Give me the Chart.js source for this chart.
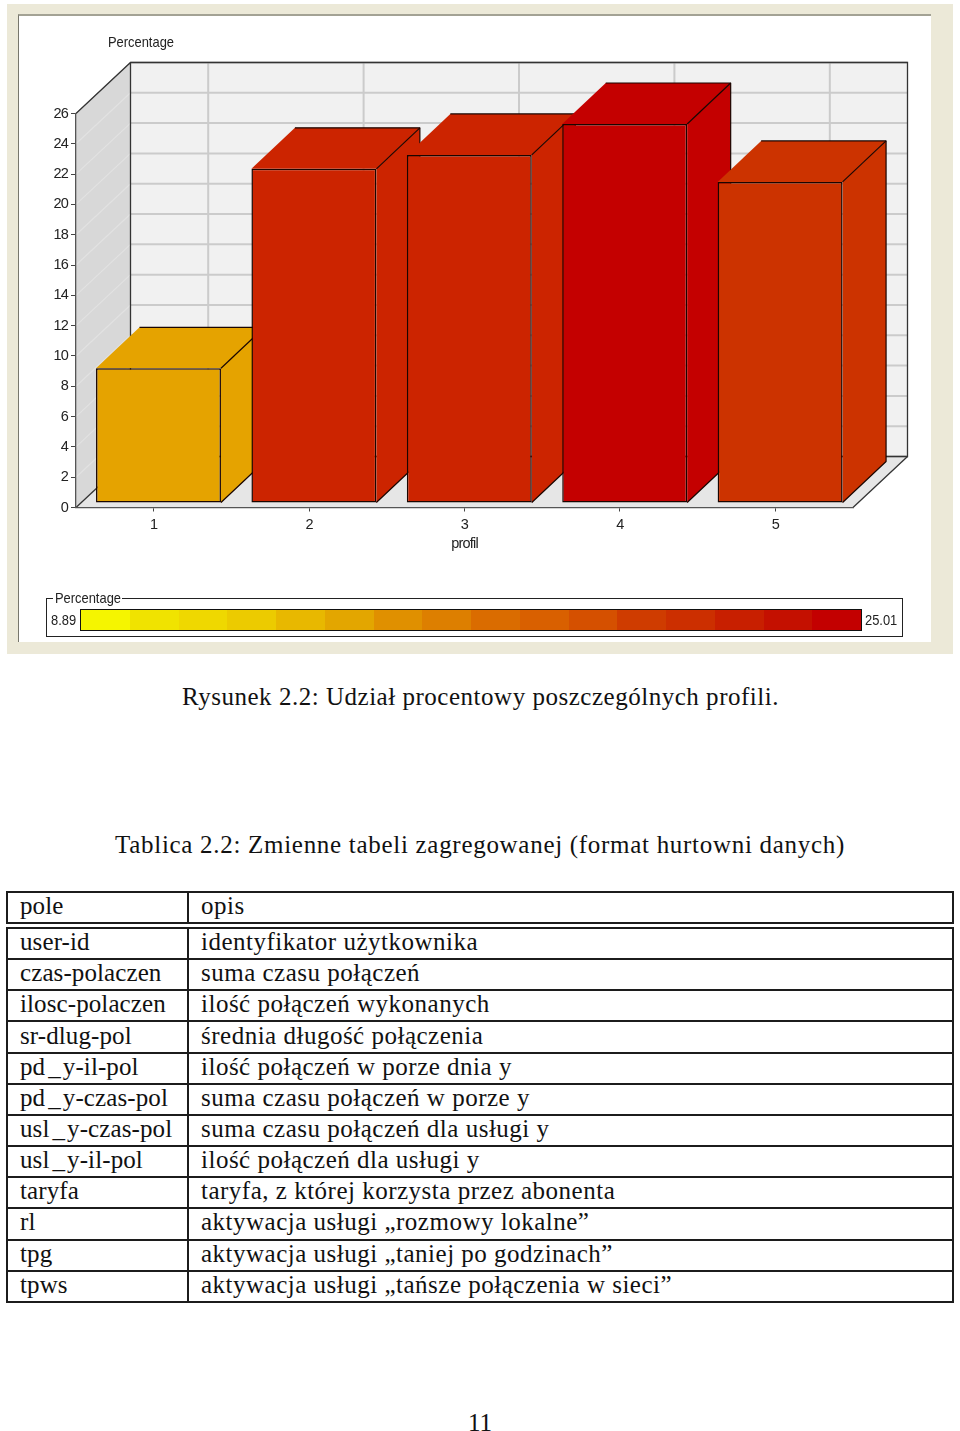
<!DOCTYPE html>
<html lang="pl">
<head>
<meta charset="utf-8">
<title>Rysunek 2.2</title>
<script src="https://cdn.jsdelivr.net/npm/chart.js@4"></script>
<style>
    html, body { margin: 0; padding: 0; background: #fff; }
    body { position: relative; width: 960px; height: 1431px; overflow: hidden; }
    .abs { position: absolute; white-space: nowrap; }
    .frame { left: 7px; top: 4px; width: 946px; height: 650px; background: #ece9d8; }
    .inner { left: 18px; top: 14px; width: 913px; height: 628px; background: #fff; border-top: 2px solid #a3a294; border-left: 1.5px solid #77766c; box-sizing: border-box; }
    canvas { position: absolute; left: 0; top: 0; }
    .ui { font-family: "Liberation Sans", sans-serif; font-size: 15px; color: #222; line-height: 18px; transform: scaleX(0.86); transform-origin: left center; }
    .tex { font-family: "Liberation Serif", serif; font-size: 25px; color: #111; line-height: 30px; }
    .legendbox { left: 46px; top: 598px; width: 857px; height: 39px; border: 1.5px solid #222; box-sizing: border-box; }
    .ramp { left: 80px; top: 609px; width: 782px; height: 22px; display: flex; border: 1.5px solid #111; box-sizing: border-box; }
    .ramp div { flex: 1; }
    table { position: absolute; left: 6px; width: 948px; border-collapse: collapse; table-layout: fixed; }
    td { border: 2px solid #1c1c1c; padding: 0 0 3px 12px; height: 31.17px; line-height: 26px; box-sizing: border-box; white-space: nowrap; overflow: visible; letter-spacing: 0.5px; }
    td.c1 { width: 181px; letter-spacing: 0.1px; }
    .us { padding: 0 2px 0 3px; }
</style>
</head>
<body>
<div class="abs frame"></div>
<div class="abs inner"></div>
<canvas id="chart" width="960" height="660"></canvas>
<span class="abs ui" style="left:108px; top:33px;">Percentage</span>

<div class="abs legendbox"></div>
<span class="abs" style="left:53px; top:596px; width:69px; height:4px; background:#fff;"></span>
<span class="abs ui" style="left:55px; top:589px;">Percentage</span>
<span class="abs ui" style="left:51px; top:611px;">8.89</span>
<div class="abs ramp" id="ramp"></div>
<span class="abs ui" style="left:865px; top:611px;">25.01</span>

<span class="abs tex" data-w="597" style="left:182px; top:682px;">Rysunek 2.2: Udział procentowy poszczególnych profili.</span>
<span class="abs tex" data-w="730" style="left:115px; top:830px;">Tablica 2.2: Zmienne tabeli zagregowanej (format hurtowni danych)</span>

<table class="tex" id="head" style="top:891px;"></table>
<table class="tex" id="body" style="top:927px;"></table>

<span class="abs tex" style="left:468px; top:1408px;">11</span>

<script>
// dane wykresu
const profiles = ['1', '2', '3', '4', '5'];
const percentage = [8.89, 22.05, 22.97, 25.01, 21.19];
const barColors = ['#e5a300', '#cc2400', '#cc2400', '#c40000', '#cc3300'];
const rampColors = ['#f5f500', '#f0e300', '#efd800', '#eccb00', '#e8b800', '#e3a600', '#e09000', '#dd7f00',
    '#da6c00', '#d96000', '#d55000', '#cf3c00', '#cc2f00', '#c81f00', '#c41000', '#c30000'];

// tabela
const fieldNames = ['user-id', 'czas-polaczen', 'ilosc-polaczen', 'sr-dlug-pol', 'pd_y-il-pol', 'pd_y-czas-pol',
    'usl_y-czas-pol', 'usl_y-il-pol', 'taryfa', 'rl', 'tpg', 'tpws'];
const fieldDescriptions = ['identyfikator użytkownika', 'suma czasu połączeń', 'ilość połączeń wykonanych',
    'średnia długość połączenia', 'ilość połączeń w porze dnia y', 'suma czasu połączeń w porze y',
    'suma czasu połączeń dla usługi y', 'ilość połączeń dla usługi y', 'taryfa, z której korzysta przez abonenta',
    'aktywacja usługi „rozmowy lokalne”', 'aktywacja usługi „taniej po godzinach”',
    'aktywacja usługi „tańsze połączenia w sieci”'];

const row = (a, b) => `<tr><td class="c1">${a.replace('_', '<span class="us">_</span>')}</td><td>${b}</td></tr>`;
document.getElementById('head').innerHTML = row('pole', 'opis');
document.getElementById('body').innerHTML = fieldNames.map((f, i) => row(f, fieldDescriptions[i])).join('');
document.getElementById('ramp').innerHTML = rampColors.map(c => `<div style="background:${c}"></div>`).join('');

// dopasowanie szerokosci linii tekstu
document.querySelectorAll('[data-w]').forEach(el => {
    const extra = (+el.dataset.w - el.getBoundingClientRect().width) / el.textContent.length;
    el.style.letterSpacing = extra + 'px';
});

// glebokosc sciany i slupka
const wall = { dx: 54.5, dy: -51 };
const box = { dx: 43.5, dy: -41, shiftX: 4.8, shiftY: -4.5 };

function poly(ctx, pts, fill) {
    ctx.beginPath();
    pts.forEach((p, i) => i ? ctx.lineTo(p[0], p[1]) : ctx.moveTo(p[0], p[1]));
    ctx.closePath();
    ctx.fillStyle = fill;
    ctx.fill();
}

function edge(ctx, pts) {
    ctx.beginPath();
    pts.forEach((p, i) => i ? ctx.lineTo(p[0], p[1]) : ctx.moveTo(p[0], p[1]));
    ctx.stroke();
}

const walls3d = {
    id: 'walls3d',
    beforeDraw(chart) {
        const { ctx, chartArea: a, scales } = chart;
        const L = a.left, R = a.right, T = a.top, B = a.bottom;
        const dx = wall.dx, dy = wall.dy;
        ctx.save();
        poly(ctx, [[L + dx, T + dy], [R + dx, T + dy], [R + dx, B + dy], [L + dx, B + dy]], '#f1f1f1');
        poly(ctx, [[L, T], [L + dx, T + dy], [L + dx, B + dy], [L, B]], '#d8d8d8');
        poly(ctx, [[L, B], [L + dx, B + dy], [R + dx, B + dy], [R, B]], '#e6e6e6');

        // siatka na scianach
        ctx.lineWidth = 2;
        scales.y.ticks.forEach((t, i) => {
            const y = scales.y.getPixelForTick(i);
            ctx.strokeStyle = '#cbcbcb';
            edge(ctx, [[L + dx, y + dy], [R + dx, y + dy]]);
            ctx.strokeStyle = '#e2e2e2';
            ctx.lineWidth = 1.2;
            edge(ctx, [[L, y], [L + dx, y + dy]]);
            ctx.lineWidth = 2;
        });
        ctx.strokeStyle = '#cbcbcb';
        scales.x.ticks.forEach((t, i) => {
            const x = scales.x.getPixelForTick(i);
            edge(ctx, [[x + dx, T + dy], [x + dx, B + dy]]);
        });

        // krawedzie
        ctx.strokeStyle = '#333';
        ctx.lineWidth = 1.3;
        edge(ctx, [[L, T], [L + dx, T + dy], [R + dx, T + dy], [R + dx, B + dy], [L + dx, B + dy], [L + dx, T + dy]]);
        edge(ctx, [[L, B], [L + dx, B + dy]]);
        edge(ctx, [[R, B], [R + dx, B + dy]]);
        ctx.restore();

        // zwezone etykiety osi
        ctx.letterSpacing = '-0.8px';
    },
    beforeDatasetsDraw(chart) {
        // boczne i gorne sciany slupkow
        const ctx = chart.ctx;
        ctx.save();
        ctx.lineJoin = 'round';
        chart.getDatasetMeta(0).data.forEach((bar, i) => {
            const p = bar.getProps(['x', 'y', 'base', 'width'], true);
            const l = p.x - p.width / 2 + box.shiftX, r = p.x + p.width / 2 + box.shiftX;
            const t = p.y + box.shiftY, b = p.base + box.shiftY;
            const x2 = r + box.dx, l2 = l + box.dx, t2 = t + box.dy, b2 = b + box.dy;
            const c = barColors[i];
            poly(ctx, [[r, t], [x2, t2], [x2, b2], [r, b]], c);
            poly(ctx, [[l, t], [l2, t2], [x2, t2], [r, t]], c);
            // lewa ukosna krawedz gornej sciany prawie niewidoczna
            ctx.strokeStyle = '#1a0500';
            ctx.lineWidth = 1.2;
            edge(ctx, [[l2, t2], [x2, t2], [x2, b2], [r, b]]);
            edge(ctx, [[x2, t2], [r, t]]);
        });
        ctx.restore();
    },
    beforeDatasetDraw(chart) {
        chart.ctx.save();
        chart.ctx.translate(box.shiftX, box.shiftY);
    },
    afterDatasetDraw(chart) {
        chart.ctx.restore();
    }
};

const uiFont = { family: '"Liberation Sans", sans-serif', size: 14.5 };

new Chart(document.getElementById('chart'), {
    type: 'bar',
    data: {
        labels: profiles,
        datasets: [{
            label: 'Percentage',
            data: percentage,
            backgroundColor: barColors,
            borderColor: '#1a0500',
            borderWidth: 1.5,
            borderSkipped: false,
            categoryPercentage: 1,
            barPercentage: 0.804,
            clip: false
        }]
    },
    options: {
        responsive: false,
        animation: false,
        layout: { padding: { left: 0, top: 113.5, right: 107, bottom: 107 } },
        plugins: { legend: { display: false }, tooltip: { enabled: false } },
        scales: {
            x: {
                grid: { offset: false, drawOnChartArea: false, drawTicks: true, tickLength: 4, color: '#444' },
                border: { display: true, color: '#555', width: 1.3 },
                ticks: { color: '#222', font: uiFont, padding: 5, maxRotation: 0 },
                title: { display: true, text: 'profil', color: '#222', font: uiFont, padding: 0 },
                afterFit(scale) { scale.height = 45.5; }
            },
            y: {
                min: 0,
                max: 26,
                grid: { drawOnChartArea: false, drawTicks: true, tickLength: 5, color: '#444' },
                border: { display: true, color: '#555', width: 1.3 },
                ticks: { stepSize: 2, color: '#222', font: uiFont, padding: 3 },
                afterFit(scale) { scale.width = 76; }
            }
        }
    },
    plugins: [walls3d]
});
</script>
</body>
</html>
